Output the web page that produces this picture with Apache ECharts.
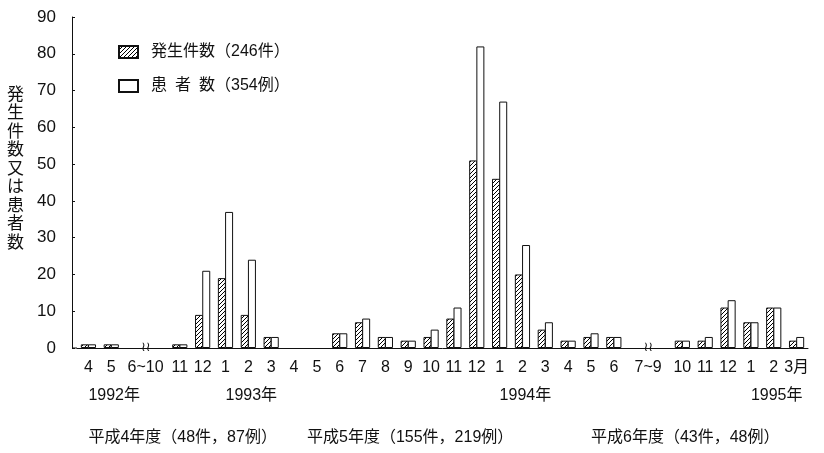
<!DOCTYPE html>
<html>
<head>
<meta charset="utf-8">
<script src="https://cdn.jsdelivr.net/npm/echarts@6/dist/echarts.min.js"></script>
<style>html,body{margin:0;padding:0;background:#fff}#c{width:824px;height:453px}</style>
</head>
<body>
<div id="c"></div>
<script>
// ---- data ----
const months = ['4','5','6~10','','11','12','1','2','3','4','5','6','7','8','9','10','11','12','1','2','3','4','5','6','7~9','','10','11','12','1','2','3月'];
const cases    = [1,1,0,0,1,9,19,9,3,0,0,4,7,3,2,3,8,51,46,20,5,2,3,3,0,0,2,2,11,7,11,2];
const patients = [1,1,0,0,1,21,37,24,3,0,0,4,8,3,2,5,11,82,67,28,7,2,4,3,0,0,2,3,13,7,11,3];
const yearLabels = ['1992年','1993年','1994年','1995年'];
const yearSlots = [0,6,18,29];
const fyLabels = ['平成4年度（48件，87例）','平成5年度（155件，219例）','平成6年度（43件，48例）'];
const fySlots = [0,9,22];
const yTicks = [0,10,20,30,40,50,60,70,80,90];
const seriesNames = ['発生件数（246件）','患\u2002者\u2002数（354例）'];
const yTitle = '発生件数又は患者数';

// ---- build ----
const FONT = "'Liberation Sans','Noto Sans CJK JP',sans-serif";
const INK = '#111';
const GRID_LEFT = 77, GRID_BOTTOM = 105, Y_OFFSET = 5;
const yearRow = months.map(() => '');
yearSlots.forEach((s, i) => yearRow[s] = yearLabels[i]);
const fyRow = months.map(() => '');
fySlots.forEach((s, i) => fyRow[s] = fyLabels[i]);
const noZero = (arr) => arr.map((v) => (v === 0 ? null : v));

const hatch = document.createElement('canvas');
hatch.width = 4; hatch.height = 4;
const g = hatch.getContext('2d');
g.fillStyle = '#fff'; g.fillRect(0,0,4,4);
g.strokeStyle = '#000'; g.lineWidth = 1;
g.beginPath();
g.moveTo(-1,5); g.lineTo(5,-1);
g.moveTo(-1,1); g.lineTo(1,-1);
g.moveTo(3,5); g.lineTo(5,3);
g.stroke();

const chart = echarts.init(document.getElementById('c'));
const labelBase = {interval:0, fontSize:16, margin:11, color:INK, fontFamily:FONT, lineHeight:17};
const option = {
  animation:false,
  backgroundColor:'#fff',
  grid:{left:GRID_LEFT, right:16, top:17, bottom:GRID_BOTTOM},
  legend:{
    left:113, top:39, orient:'vertical', icon:'rect', itemWidth:19, itemHeight:12, itemGap:18,
    textStyle:{fontSize:16, fontFamily:FONT, color:INK, padding:[0,0,0,8]},
    data:seriesNames
  },
  xAxis:[
    {
      type:'category', data:months,
      axisLine:{lineStyle:{color:INK, width:1}},
      axisTick:{inside:true, length:4, alignWithLabel:true, interval:0, lineStyle:{color:INK}},
      axisLabel:Object.assign({}, labelBase, {
        formatter:(v) => (v.indexOf('~') >= 0 ? '{m|' + v + '}' : v),
        rich:{m:{padding:[0,0,0,23], fontSize:16, fontFamily:FONT, color:INK, lineHeight:17}}
      })
    },
    {
      type:'category', data:yearRow, position:'bottom', offset:28,
      axisLine:{show:false}, axisTick:{show:false},
      axisLabel:Object.assign({}, labelBase, {align:'left'})
    },
    {
      type:'category', data:fyRow, position:'bottom', offset:70,
      axisLine:{show:false}, axisTick:{show:false},
      axisLabel:Object.assign({}, labelBase, {
        align:'left', fontSize:16,
        formatter:(v) => (v === fyLabels[1] ? '{p|' + v + '}' : v),
        rich:{p:{padding:[0,0,0,13], fontSize:16, fontFamily:FONT, color:INK, lineHeight:17}}
      })
    }
  ],
  yAxis:{
    type:'value', min:yTicks[0], max:yTicks[yTicks.length-1], interval:10, offset:Y_OFFSET,
    axisLine:{show:true, lineStyle:{color:INK}},
    axisTick:{show:true, inside:true, length:3, lineStyle:{color:INK}},
    splitLine:{show:false},
    axisLabel:{fontSize:17, margin:16, color:INK, fontFamily:FONT}
  },
  graphic:[
    {type:'text', left:7, top:84, style:{text:yTitle.split('').join('\n'), fontSize:17, lineHeight:18.5, fill:INK, fontFamily:"'Noto Sans CJK JP',sans-serif"}},
    {type:'line', shape:{x1:GRID_LEFT - Y_OFFSET, y1:453 - GRID_BOTTOM, x2:GRID_LEFT, y2:453 - GRID_BOTTOM}, style:{stroke:INK, lineWidth:1}}
  ],
  series:[
    {name:seriesNames[0], type:'bar', data:noZero(cases), barWidth:8, barGap:'-10%',
     itemStyle:{color:{image:hatch, repeat:'repeat'}, borderColor:INK, borderWidth:1}},
    {name:seriesNames[1], type:'bar', data:noZero(patients), barWidth:8,
     itemStyle:{color:'#fff', borderColor:INK, borderWidth:1}}
  ]
};
chart.setOption(option);

// break marks on the axis between merged slots
const breaks = [];
months.forEach((m, i) => { if (m.indexOf('~') >= 0) breaks.push(i); });
const baseY = chart.convertToPixel({yAxisIndex:0}, 0);
const gExtra = breaks.map((i) => {
  const x = (chart.convertToPixel({xAxisIndex:0}, i) + chart.convertToPixel({xAxisIndex:0}, i + 1)) / 2;
  return {type:'text', x:x, y:baseY, style:{text:'≀≀', fontSize:13, fill:INK, align:'center', verticalAlign:'middle', fontFamily:"'DejaVu Sans',sans-serif"}};
});
chart.setOption({graphic: option.graphic.concat(gExtra)});
</script>
</body>
</html>
